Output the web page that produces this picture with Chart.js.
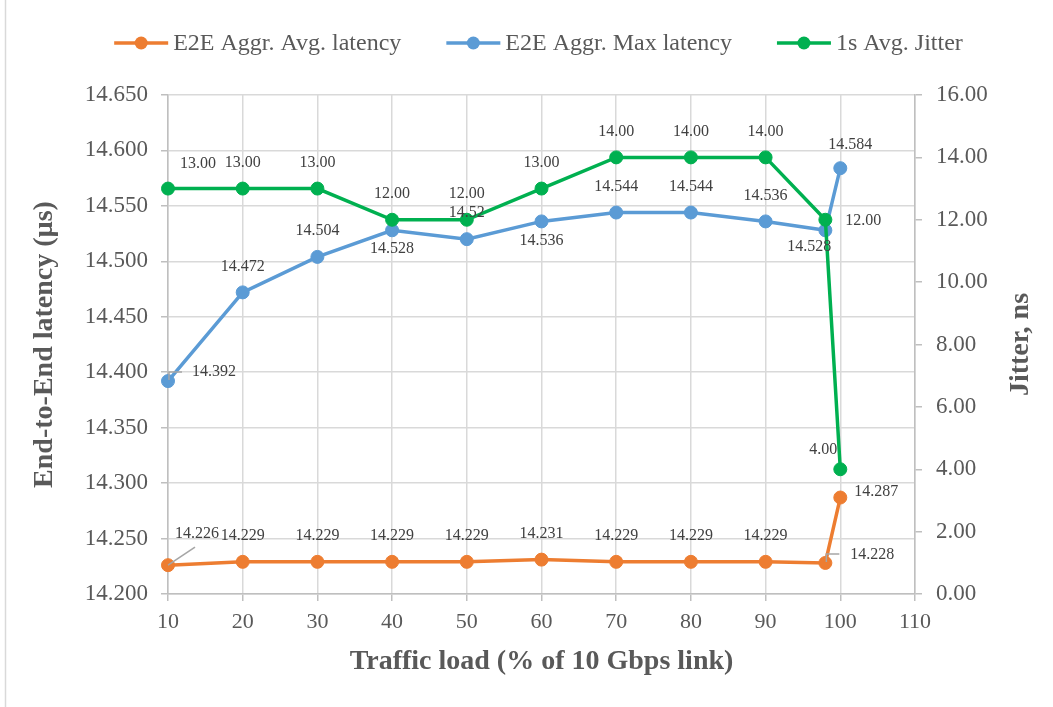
<!DOCTYPE html>
<html>
<head>
<meta charset="utf-8">
<script src="https://cdn.jsdelivr.net/npm/chart.js@4/dist/chart.umd.min.js"></script>
<style>
  html, body { margin: 0; padding: 0; background: #fff; }
  #wrap { position: relative; width: 1053px; height: 707px; }
</style>
</head>
<body>
<div id="wrap"><canvas id="chart" width="1053" height="707"></canvas></div>
<script>
// datos
const loads = [10, 20, 30, 40, 50, 60, 70, 80, 90, 98, 100];
const avgLatency = [14.226, 14.229, 14.229, 14.229, 14.229, 14.231, 14.229, 14.229, 14.229, 14.228, 14.287];
const maxLatency = [14.392, 14.472, 14.504, 14.528, 14.52, 14.536, 14.544, 14.544, 14.536, 14.528, 14.584];
const jitter = [13, 13, 13, 12, 12, 13, 14, 14, 14, 12, 4];

const xTicks = [10, 20, 30, 40, 50, 60, 70, 80, 90, 100, 110];
const leftTicks = [14.2, 14.25, 14.3, 14.35, 14.4, 14.45, 14.5, 14.55, 14.6, 14.65];
const rightTicks = [0, 2, 4, 6, 8, 10, 12, 14, 16];

// posición de etiquetas (estilo, no datos)
const avgPos = ['ar*', 'a', 'a', 'a', 'a', 'a', 'a', 'a', 'a', 'r*', 'r'];
const maxPos = ['rl*', 'a', 'a', 'b', 'a', 'b', 'a', 'a', 'a', 'bl', 'ar2'];
const jitPos = ['ar', 'a', 'a', 'a', 'a', 'a', 'a', 'a', 'a', 'r2', 'al'];

const ORANGE = '#ED7D31', BLUE = '#5B9BD5', GREEN = '#00B050';
const TXT = '#595959', GRID = '#D9D9D9', AXIS = '#BFBFBF';
const FONT = '"Liberation Serif", "Times New Roman", serif';

const OFF = {
  'a':   [0, -26, 'center'],
  'b':   [0, 19, 'center'],
  'r':   [14, -6, 'left'],
  'r*':  [25, -8, 'left'],
  'r2':  [20, 1, 'left'],
  'ar':  [30, -25, 'center'],
  'ar*': [29, -31, 'center'],
  'ar2': [10, -23, 'center'],
  'bl':  [-16, 17, 'center'],
  'al':  [-3, -19, 'right'],
  'rl*': [24, -9, 'left']
};

function pts(ys){ return loads.map((x, i) => ({x, y: ys[i]})); }

const fixTicks = arr => scale => { scale.ticks = arr.map(v => ({value: v})); };

const labelsPlugin = {
  id: 'labels',
  afterDatasetsDraw(chart){
    const ctx = chart.ctx;
    const sets = [
      {idx: 0, pos: avgPos, fmt: v => String(v)},
      {idx: 1, pos: maxPos, fmt: v => String(v)},
      {idx: 2, pos: jitPos, fmt: v => v.toFixed(2)}
    ];
    ctx.save();
    ctx.font = '16px ' + FONT;
    ctx.fillStyle = '#404040';
    ctx.textBaseline = 'middle';
    sets.forEach(s => {
      const meta = chart.getDatasetMeta(s.idx);
      const vals = chart.data.datasets[s.idx].data;
      meta.data.forEach((el, i) => {
        const p = s.pos[i];
        const o = OFF[p];
        const x = el.x + o[0], y = el.y + o[1];
        if (p.endsWith('*')){
          ctx.save();
          ctx.strokeStyle = '#A6A6A6';
          ctx.lineWidth = 1.5;
          ctx.beginPath();
          if (p === 'ar*'){
            ctx.moveTo(el.x, el.y);
            ctx.lineTo(el.x + 27, el.y - 18);
          } else {
            ctx.moveTo(el.x + 1, el.y - 1);
            ctx.lineTo(el.x + 1, el.y - 9);
            ctx.lineTo(el.x + 14, el.y - 9);
          }
          ctx.stroke();
          ctx.restore();
        }
        ctx.textAlign = o[2];
        ctx.fillText(s.fmt(vals[i].y), x, y);
      });
    });
    ctx.restore();
  }
};

const decoPlugin = {
  id: 'deco',
  afterDraw(chart){
    const ctx = chart.ctx;
    const a = chart.chartArea;
    ctx.save();
    // marco izquierdo
    ctx.strokeStyle = GRID;
    ctx.lineWidth = 1.5;
    ctx.beginPath(); ctx.moveTo(5.5, 0); ctx.lineTo(5.5, 707); ctx.stroke();

    // títulos de ejes
    ctx.fillStyle = TXT;
    ctx.font = 'bold 28px ' + FONT;
    ctx.textAlign = 'center';
    ctx.textBaseline = 'middle';
    ctx.fillText('Traffic load (% of 10 Gbps link)', (a.left + a.right) / 2, 662);
    const cy = (a.top + a.bottom) / 2;
    ctx.save();
    ctx.translate(45, cy); ctx.rotate(-Math.PI / 2);
    ctx.fillText('End-to-End latency (µs)', 0, 0);
    ctx.restore();
    ctx.save();
    ctx.translate(1021, cy); ctx.rotate(-Math.PI / 2);
    ctx.fillText('Jitter, ns', 0, 0);
    ctx.restore();

    // leyenda
    const items = chart.data.datasets.map(d => ({text: d.label, color: d.borderColor}));
    ctx.font = '24px ' + FONT;
    const lineW = 54, gapTxt = 5, gapItem = 45;
    const widths = items.map(it => ctx.measureText(it.text).width);
    const total = widths.reduce((s, w) => s + lineW + gapTxt + w, 0) + gapItem * (items.length - 1);
    let x = (a.left + a.right) / 2 - 3 - total / 2;
    const ly = 43;
    items.forEach((it, i) => {
      ctx.strokeStyle = it.color;
      ctx.lineWidth = 3.5;
      ctx.beginPath(); ctx.moveTo(x, ly); ctx.lineTo(x + lineW, ly); ctx.stroke();
      ctx.fillStyle = it.color;
      ctx.beginPath(); ctx.arc(x + lineW / 2, ly, 6.5, 0, Math.PI * 2); ctx.fill();
      ctx.fillStyle = TXT;
      ctx.textAlign = 'left';
      ctx.fillText(it.text, x + lineW + gapTxt, ly + 1);
      x += lineW + gapTxt + widths[i] + gapItem;
    });
    ctx.restore();
  }
};

function ds(label, ys, color, axis, order){
  return {
    label, data: pts(ys), yAxisID: axis, order,
    borderColor: color, backgroundColor: color,
    pointBackgroundColor: color, pointBorderColor: color,
    borderWidth: 3.5, pointRadius: 6.5, pointBorderWidth: 1,
    tension: 0, clip: false
  };
}

new Chart(document.getElementById('chart'), {
  type: 'line',
  data: {
    datasets: [
      ds('E2E Aggr. Avg. latency', avgLatency, ORANGE, 'y', 3),
      ds('E2E Aggr. Max latency', maxLatency, BLUE, 'y', 2),
      ds('1s Avg. Jitter', jitter, GREEN, 'y1', 1)
    ]
  },
  options: {
    responsive: false,
    animation: false,
    layout: { padding: { top: 95, left: 0, right: 0, bottom: 0 } },
    plugins: { legend: { display: false }, tooltip: { enabled: false } },
    scales: {
      x: {
        type: 'linear', min: 10, max: 110,
        afterBuildTicks: fixTicks(xTicks),
        afterFit: s => { s.height = 113; },
        grid: { color: GRID, lineWidth: 1.5, tickLength: 7, tickColor: AXIS },
        border: { color: AXIS, width: 1.5 },
        ticks: { color: TXT, font: { family: FONT, size: 22 }, padding: 8, maxRotation: 0 }
      },
      y: {
        position: 'left', min: 14.2, max: 14.65,
        afterBuildTicks: fixTicks(leftTicks),
        afterFit: s => { s.width = 168; },
        grid: { color: GRID, lineWidth: 1.5, tickLength: 7, tickColor: AXIS },
        border: { color: AXIS, width: 1.5 },
        ticks: { color: TXT, font: { family: FONT, size: 23 }, padding: 13, callback: v => v.toFixed(3) }
      },
      y1: {
        position: 'right', min: 0, max: 16,
        afterBuildTicks: fixTicks(rightTicks),
        afterFit: s => { s.width = 138; },
        grid: { drawOnChartArea: false, lineWidth: 1.5, tickLength: 7, color: AXIS },
        border: { color: AXIS, width: 1.5 },
        ticks: { color: TXT, font: { family: FONT, size: 23 }, padding: 14, callback: v => v.toFixed(2) }
      }
    }
  },
  plugins: [labelsPlugin, decoPlugin]
});
</script>
</body>
</html>
